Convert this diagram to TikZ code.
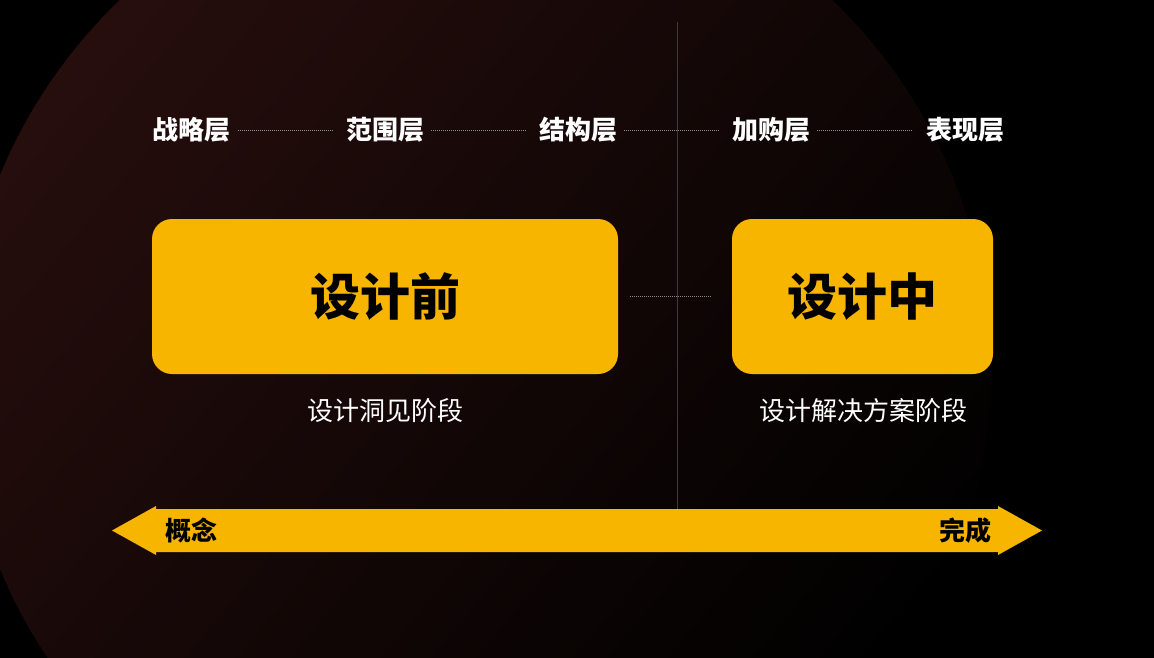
\documentclass[tikz,border=0pt]{standalone}
\usepackage{fontspec}
\setmainfont{Noto Sans CJK SC}
\usetikzlibrary{positioning}
\definecolor{stageyellow}{HTML}{F7B500}
\definecolor{glowred}{HTML}{260E0D}
\definecolor{dotgray}{HTML}{8C8C8C}
\definecolor{railgray}{HTML}{3C3C3C}
\tikzset{
  layer/.style={text=white,font=\bfseries\fontsize{26}{26}\selectfont,inner sep=0pt},
  stage/.style={fill=stageyellow,rounded corners=20pt,inner sep=0pt,font=\bfseries\fontsize{50}{50}\selectfont},
  stagenote/.style={text=white,font=\fontsize{26}{26}\selectfont,inner sep=0pt},
  endnote/.style={text=black,font=\bfseries\fontsize{26}{26}\selectfont,inner sep=0pt},
  dotline/.style={dotgray,line width=0.8pt,dash pattern=on 1pt off 1pt,shorten <=7pt,shorten >=13pt},
}
\begin{document}
\begin{tikzpicture}[x=1pt,y=-1pt]
\useasboundingbox (0,0) rectangle (1154,658);
\fill[black] (0,0) rectangle (1154,658);
\shade[top color=glowred,middle color=glowred!45!black,bottom color=black,shading angle=50] (476,372) circle[radius=515pt];

\coordinate (railtop) at (677,22);
\coordinate (railbot) at (677,509);
\draw[railgray,line width=0.8pt] (railtop) -- (railbot);

\node[layer] (strategy) at (191.5,130) {战略层};
\node[layer] (scope) at (385,130) {范围层};
\node[layer] (structure) at (578,130) {结构层};
\node[layer] (cart) at (771,130) {加购层};
\node[layer] (surface) at (965,130) {表现层};
\draw[dotline] (strategy) -- (scope);
\draw[dotline] (scope) -- (structure);
\draw[dotline] (structure) -- (cart);
\draw[dotline] (cart) -- (surface);

\node[stage,minimum width=466pt,minimum height=155pt] (before) at (385,296.5) {设计前};
\node[stage,minimum width=261pt,minimum height=155pt] (during) at (862.5,296.5) {设计中};
\draw[dotline,shorten <=12pt,shorten >=21pt] (before) -- (during);

\node[stagenote] (insight) at (385,411) {设计洞见阶段};
\node[stagenote] (solution) at (863,411) {设计解决方案阶段};

\fill[stageyellow] (112,530.5) -- (156,506) -- (156,509) -- (998,509) -- (998,506) -- (1042,530.5)
  -- (998,555) -- (998,552) -- (156,552) -- (156,555) -- cycle;
\node[endnote] (concept) at (191,530.5) {概念};
\node[endnote] (done) at (965,530.5) {完成};
\end{tikzpicture}
\end{document}
